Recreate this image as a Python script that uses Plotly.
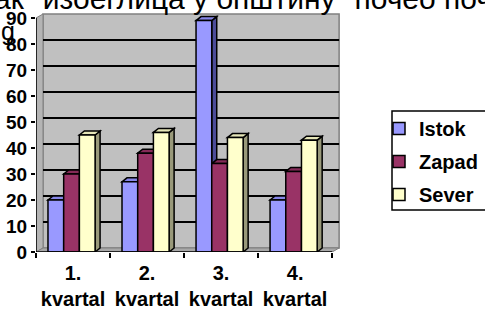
import plotly.graph_objects as go

# ---- data ----
categories = ["1. kvartal", "2. kvartal", "3. kvartal", "4. kvartal"]
series_names = ["Istok", "Zapad", "Sever"]
istok = [20, 27, 89, 20]
zapad = [30, 38, 34, 31]
sever = [45, 46, 44, 43]
y_ticks = [0, 10, 20, 30, 40, 50, 60, 70, 80, 90]
title_text = 'ак "изоеглица у општину" почео поч'
title_line2 = "g"

# ---- style / layout constants ----
W, H = 485, 311
L, R, T, B = 36, 144, 5, 59
PW = W - L - R          # plot width px
PH = H - T - B          # plot height px
XR = [-0.5, 3.62]
YR = [0, 95]
PXU = PW / (XR[1] - XR[0])   # px per x unit
PYU = PH / (YR[1] - YR[0])   # px per y unit

front_cols = ["#9999FF", "#993366", "#FFFFCC"]
top_cols = ["#8686E8", "#852B58", "#E6E6B8"]
side_cols = ["#4C4C99", "#4D1A33", "#99997A"]
FONT = "Liberation Sans, Arial, sans-serif"

bar_w = 15.7 / PXU
bdx, bdy = 5 / PXU, 4 / PYU       # bar depth
wdx, wdy = 7 / PXU, 4 / PYU       # wall depth
offsets = [-bar_w - 0.02, -0.02, bar_w - 0.02]

def pxx(px):
    return (px - L) / PW

def pxy(py):
    return (H - B - py) / PH

values = [istok, zapad, sever]
xs = list(range(len(categories)))

fig = go.Figure()
shapes = []

def poly(pts, fill, line="black", lw=1.5, layer="below"):
    d = "M " + " L ".join(f"{x},{y}" for x, y in pts) + " Z"
    shapes.append(dict(type="path", path=d, fillcolor=fill, xref="x", yref="y",
                       line=dict(color=line, width=lw), layer=layer))

x0, x1 = -0.5, 3.5
ymax = y_ticks[-1]
# back wall
poly([(x0 + wdx, wdy), (x1 + wdx, wdy), (x1 + wdx, ymax + wdy), (x0 + wdx, ymax + wdy)],
     "#C0C0C0", line="#808080", lw=1.5)
# left side wall
poly([(x0, 0), (x0 + wdx, wdy), (x0 + wdx, ymax + wdy), (x0, ymax)], "#B4B4B4", line="#808080", lw=1)
# floor
poly([(x0, 0), (x1, 0), (x1 + wdx, wdy), (x0 + wdx, wdy)], "#A8A8A8", line="#808080", lw=1)
# gridlines on back wall
for v in y_ticks[1:-1]:
    shapes.append(dict(type="line", xref="x", yref="y", x0=x0 + wdx, x1=x1 + wdx,
                       y0=v + wdy, y1=v + wdy, line=dict(color="black", width=2), layer="below"))

# bar side/top faces (left to right so later fronts cover earlier sides)
for i in xs:
    for k, vals in enumerate(values):
        c = i + offsets[k]
        v = vals[i]
        l, r = c - bar_w / 2, c + bar_w / 2
        poly([(r, 0), (r + bdx, bdy), (r + bdx, v + bdy), (r, v)], side_cols[k])
        poly([(l, v), (l + bdx, v + bdy), (r + bdx, v + bdy), (r, v)], top_cols[k])

for k, vals in enumerate(values):
    fig.add_trace(go.Bar(
        x=[i + offsets[k] for i in xs], y=vals, width=bar_w, name=series_names[k],
        legendgroup=series_names[k],
        marker=dict(color=front_cols[k], line=dict(color="black", width=1.5)),
        hoverinfo="skip"))

# axis lines
shapes.append(dict(type="line", xref="x", yref="y", x0=x0, x1=x0, y0=0, y1=ymax,
                   line=dict(color="black", width=1.5), layer="above"))
shapes.append(dict(type="line", xref="x", yref="y", x0=x0, x1=x1, y0=0, y1=0,
                   line=dict(color="black", width=1.5), layer="above"))
# legend border
shapes.append(dict(type="rect", xref="paper", yref="paper", x0=pxx(392), x1=pxx(490),
                   y0=pxy(210), y1=pxy(111), line=dict(color="black", width=1.5),
                   fillcolor="white", layer="below"))

tick_text = [c.replace(" ", "<br>") for c in categories]

fig.update_layout(
    width=W, height=H, margin=dict(l=L, r=R, t=T, b=B, autoexpand=False),
    paper_bgcolor="white", plot_bgcolor="rgba(0,0,0,0)",
    barmode="overlay", shapes=shapes,
    font=dict(family=FONT, color="black"),
    showlegend=True,
    legend=dict(x=pxx(379), y=pxy(109), xanchor="left", yanchor="top",
                bgcolor="rgba(0,0,0,0)", borderwidth=0,
                font=dict(family=FONT, size=20, color="black", weight="bold"),
                traceorder="grouped", tracegroupgap=4),
    xaxis=dict(range=XR, showgrid=False, zeroline=False, showline=False,
               tickmode="array", tickvals=xs, ticktext=tick_text, ticks="",
               ticklabelstandoff=7,
               tickfont=dict(family=FONT, size=20, color="black", weight="bold"),
               minor=dict(tickmode="array", tickvals=[-0.5, 0.5, 1.5, 2.5, 3.5],
                          ticks="outside", ticklen=5, tickwidth=1.5, tickcolor="black"),
               fixedrange=True),
    yaxis=dict(range=YR, showgrid=False, zeroline=False, showline=False,
               tickmode="array", tickvals=y_ticks, ticks="outside", ticklen=4,
               tickwidth=1.5, tickcolor="black",
               tickfont=dict(family=FONT, size=19, color="black", weight="bold"),
               fixedrange=True),
    annotations=[
        dict(text=title_text, xref="paper", yref="paper", x=pxx(-8), y=pxy(17),
             xanchor="left", yanchor="bottom", showarrow=False,
             font=dict(family=FONT, size=30, color="black")),
        dict(text=title_line2, xref="paper", yref="paper", x=pxx(-1), y=pxy(47),
             xanchor="left", yanchor="bottom", showarrow=False,
             font=dict(family=FONT, size=25, color="black")),
    ],
)

fig.write_html("out.html", config={"displayModeBar": False},
               post_script="document.body.style.margin='0';")
